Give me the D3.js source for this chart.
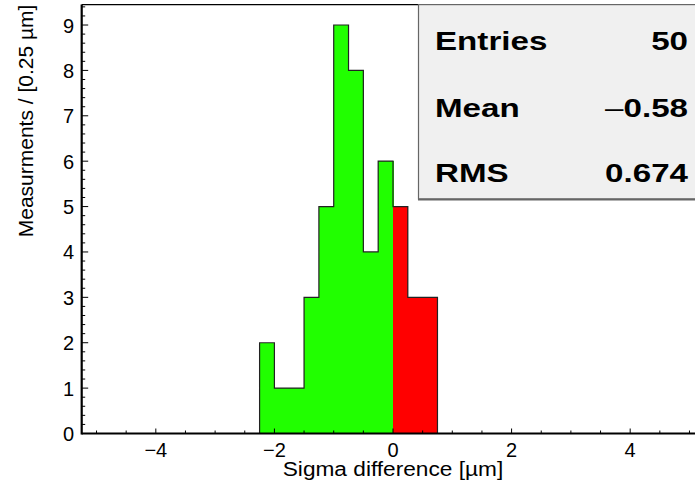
<!DOCTYPE html>
<html>
<head>
<meta charset="utf-8">
<script src="https://cdn.jsdelivr.net/npm/d3@7"></script>
<style>
  body { margin: 0; background: #fff; }
  svg { display: block; font-family: "Liberation Sans", Arial, sans-serif; }
</style>
</head>
<body>
<svg id="chart" width="695" height="488"></svg>
<script>
// histogram data: lower bin edges and counts (bin width 0.25)
var binWidth = 0.25
var binLow = [-2.25, -2.0, -1.75, -1.5, -1.25, -1.0, -0.75, -0.5, -0.25, 0.0, 0.25, 0.5]
var counts = [2, 1, 1, 3, 5, 9, 8, 4, 6, 5, 3, 3]
var xTicks = [-4, -2, 0, 2, 4]
var yTicks = [0, 1, 2, 3, 4, 5, 6, 7, 8, 9]
var statNames = ["Entries", "Mean", "RMS"]
var statValues = ["50", "\u22120.58", "0.674"]

var svg = d3.select("#chart")

// plot frame (right edge falls just outside the canvas)
var fLeft = 81.7, fRight = 704.3, fTop = 4.6, fBottom = 433.5

var x = d3.scaleLinear().domain([-5.25, 5.25]).range([fLeft, fRight])
var y = d3.scaleLinear().domain([0, 9.45]).range([fBottom, fTop])

var bins = binLow.map(function (lo, i) {
  return { lo: lo, hi: lo + binWidth, n: counts[i] }
})

// filled bars, green below zero, red from zero up
svg.selectAll("rect.bin")
  .data(bins)
  .enter()
  .append("rect")
  .attr("class", "bin")
  .attr("x", function (d) { return x(d.lo) })
  .attr("width", function (d) { return x(d.hi) - x(d.lo) + 0.5 })
  .attr("y", function (d) { return y(d.n) })
  .attr("height", function (d) { return y(0) - y(d.n) })
  .attr("shape-rendering", "crispEdges")
  .attr("fill", function (d) { return d.lo >= 0 ? "#ff0000" : "#21ff00" })

// outline as a step line
var pts = [[bins[0].lo, 0]]
bins.forEach(function (d) {
  pts.push([d.lo, d.n])
  pts.push([d.hi, d.n])
})
pts.push([bins[bins.length - 1].hi, 0])

var line = d3.line()
  .x(function (d) { return x(d[0]) })
  .y(function (d) { return y(d[1]) })

svg.append("path")
  .attr("d", line(pts))
  .attr("fill", "none")
  .attr("stroke", "#222")
  .attr("stroke-width", 1.2)

// frame top
svg.append("line")
  .attr("x1", fLeft).attr("x2", fRight)
  .attr("y1", fTop).attr("y2", fTop)
  .attr("stroke", "#000").attr("stroke-width", 1.2)

// x axis ticks (inside, upward)
var xMinor = d3.range(-5, 5.01, 0.5)
svg.selectAll("line.xminor")
  .data(xMinor)
  .enter()
  .append("line")
  .attr("x1", function (d) { return x(d) })
  .attr("x2", function (d) { return x(d) })
  .attr("y1", fBottom)
  .attr("y2", function (d) { return fBottom - (d % 2 === 0 ? 5 : 3) })
  .attr("stroke", "#000")
  .attr("stroke-width", 1)

svg.selectAll("text.xlab")
  .data(xTicks)
  .enter()
  .append("text")
  .attr("x", function (d) { return x(d) })
  .attr("y", 457)
  .attr("text-anchor", "middle")
  .attr("font-size", 20)
  .text(function (d) { return d < 0 ? "\u2212" + Math.abs(d) : d })

// y axis ticks (inside, to the right)
var yMinor = d3.range(0, 9.41, 0.2)
svg.selectAll("line.yminor")
  .data(yMinor)
  .enter()
  .append("line")
  .attr("x1", fLeft)
  .attr("x2", function (d) { return fLeft + (Math.abs(d - Math.round(d)) < 0.01 ? 6.5 : 3.5) })
  .attr("y1", function (d) { return y(d) })
  .attr("y2", function (d) { return y(d) })
  .attr("stroke", "#000")
  .attr("stroke-width", 1)

svg.selectAll("text.ylab")
  .data(yTicks)
  .enter()
  .append("text")
  .attr("x", 74)
  .attr("y", function (d) { return y(d) + 7.5 })
  .attr("text-anchor", "end")
  .attr("font-size", 20)
  .text(function (d) { return d })

// axis lines
svg.append("line")
  .attr("x1", fLeft).attr("x2", fRight)
  .attr("y1", fBottom).attr("y2", fBottom)
  .attr("stroke", "#000").attr("stroke-width", 2.2)
svg.append("line")
  .attr("x1", fLeft).attr("x2", fLeft)
  .attr("y1", fTop).attr("y2", fBottom + 1)
  .attr("stroke", "#000").attr("stroke-width", 2.2)

// axis titles
svg.append("text")
  .attr("x", (fLeft + fRight) / 2)
  .attr("y", 476)
  .attr("text-anchor", "middle")
  .attr("font-size", 21)
  .attr("transform", "translate(" + (-(fLeft + fRight) / 2 * 0.08) + ",0) scale(1.08,1)")
  .text("Sigma difference [\u00b5m]")

svg.append("text")
  .attr("transform", "translate(33," + fTop + ") rotate(-90)")
  .attr("text-anchor", "end")
  .attr("font-size", 21)
  .text("Measurments / [0.25 \u00b5m]")

// stats box
var box = svg.append("g")
box.append("rect")
  .attr("x", 418.5).attr("y", fTop)
  .attr("width", 300).attr("height", 199 - fTop)
  .attr("fill", "#f0f0f0")
  .attr("stroke", "#666")
  .attr("stroke-width", 1.2)
box.append("line")
  .attr("x1", 418).attr("x2", 695)
  .attr("y1", 199.5).attr("y2", 199.5)
  .attr("stroke", "#666").attr("stroke-width", 2)

var rowY = [50, 117, 182]
statNames.forEach(function (s, i) {
  box.append("text")
    .attr("transform", "translate(435," + rowY[i] + ") scale(1.3,1)")
    .attr("font-size", 25.5).attr("font-weight", "bold")
    .text(s)
  var t = box.append("text")
    .attr("transform", "translate(688," + rowY[i] + ") scale(1.3,1)")
    .attr("text-anchor", "end")
    .attr("font-size", 25.5).attr("font-weight", "bold")
  var v = statValues[i]
  if (v[0] === "\u2212") {
    t.append("tspan").attr("font-weight", "normal").text("\u2013")
    t.append("tspan").text(v.slice(1))
  } else {
    t.text(v)
  }
})
</script>
</body>
</html>
